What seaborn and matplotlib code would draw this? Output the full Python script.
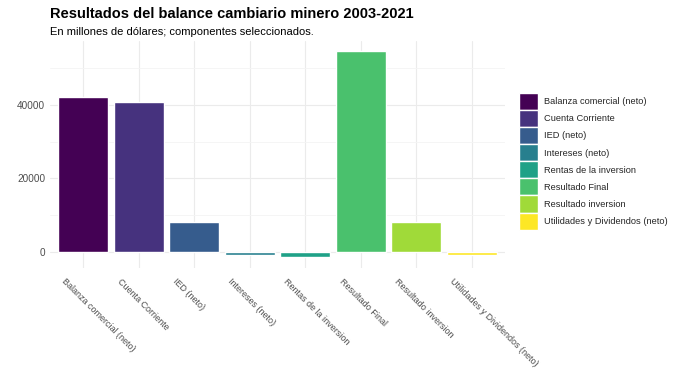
import matplotlib
matplotlib.use("Agg")
import matplotlib.pyplot as plt
import matplotlib.transforms as mtransforms
import numpy as np
import pandas as pd
import seaborn as sns

# values (millions of USD)
componentes = [
    "Balanza comercial (neto)",
    "Cuenta Corriente",
    "IED (neto)",
    "Intereses (neto)",
    "Rentas de la inversion",
    "Resultado Final",
    "Resultado inversion",
    "Utilidades y Dividendos (neto)",
]
valores = [42100, 40700, 8200, -700, -1500, 54700, 8200, -800]

df = pd.DataFrame({"componente": componentes, "valor": valores})

sns.set_style("white")
plt.rcParams["font.family"] = ["Liberation Sans", "DejaVu Sans"]

fig = plt.figure(figsize=(6.79, 3.82), dpi=100)
ax = fig.add_axes([0.0736, 0.299, 0.670, 0.5945])

# ggplot-style discrete viridis: endpoints included
cmap = matplotlib.colormaps["viridis"]
palette = [cmap(v) for v in np.linspace(0, 1, len(componentes))]
sns.barplot(data=df, x="componente", y="valor", hue="componente",
            palette=palette, width=0.9, dodge=False, saturation=1,
            ax=ax, legend=True)

ax.set_xlim(-0.6, len(componentes) - 0.4)
span = max(valores) - min(valores)
ax.set_ylim(min(valores) - 0.05 * span, max(valores) + 0.05 * span)

ax.set_yticks([0, 20000, 40000])
ax.set_yticks([10000, 30000, 50000], minor=True)
ax.grid(True, which="major", color="#EBEBEB", linewidth=0.8)
ax.grid(True, which="minor", axis="y", color="#F4F4F4", linewidth=0.6)
ax.set_axisbelow(True)
for s in ax.spines.values():
    s.set_visible(False)
ax.tick_params(axis="both", which="both", length=0, colors="#4D4D4D", labelsize=7.2)
ax.set_xlabel("")
ax.set_ylabel("")

ax.set_xticks(range(len(componentes)))
ax.set_xticklabels(componentes, rotation=-45, ha="left", va="top",
                   rotation_mode="anchor", color="#4D4D4D", fontsize=6.5)
offset = mtransforms.ScaledTranslation(-0.17, -0.04, fig.dpi_scale_trans)
for lbl in ax.get_xticklabels():
    lbl.set_transform(lbl.get_transform() + offset)

handles, labels = ax.get_legend_handles_labels()
ax.legend_.remove()
fig.legend(handles, labels, loc="upper left", bbox_to_anchor=(0.765, 0.757),
           bbox_transform=fig.transFigure, frameon=False, fontsize=6.7,
           handlelength=1.95, handleheight=2.45, labelspacing=0.0,
           handletextpad=0.7, borderaxespad=0, borderpad=0)

fig.text(0.0736, 0.954, "Resultados del balance cambiario minero 2003-2021",
         fontsize=10.5, fontweight="bold", color="black", va="baseline")
fig.text(0.0736, 0.908, "En millones de dólares; componentes seleccionados.",
         fontsize=8, color="black", va="baseline")

fig.savefig("out.png", dpi=100, facecolor="white")
